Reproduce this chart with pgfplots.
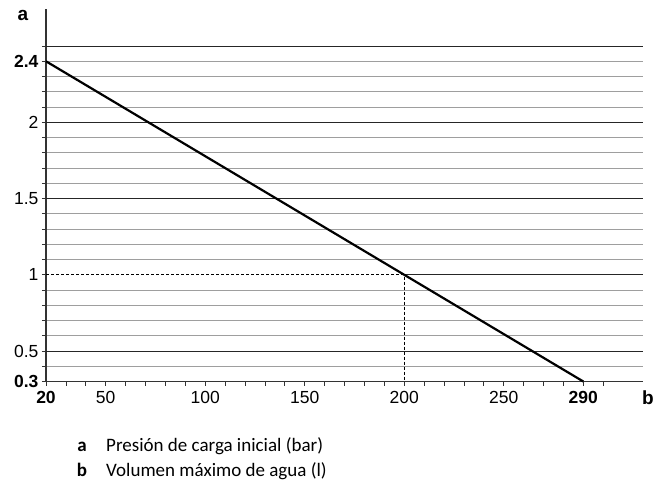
\documentclass[border=0pt]{standalone}
\usepackage{fontspec}
\setmainfont{Liberation Sans}
\newfontfamily\carlito{Carlito}
\usepackage{pgfplots}
\pgfplotsset{compat=1.18}
\begin{document}
\begin{tikzpicture}[x=1pt,y=1pt]
\path[use as bounding box] (-46,-102.5) rectangle (609,381.5);
\begin{axis}[
  at={(0,0)}, anchor=south west,
  scale only axis, width=597pt, height=372.5pt,
  xmin=20, xmax=320, ymin=0.3, ymax=2.743,
  axis x line=bottom, axis y line=left,
  axis line style={-, line width=1.2pt, black!80},
  xtick={20,50,100,150,200,250,290},
  xticklabels={\textbf{20},50,100,150,200,250,\textbf{290}},
  minor xtick={30,40,60,70,80,90,110,120,130,140,160,170,180,190,210,220,230,240,260,270,280,300},
  ytick={0.3,0.5,1,1.5,2,2.4},
  yticklabels={\textbf{0.3},0.5,1,1.5,2,\textbf{2.4}},
  minor ytick={0.4,0.6,0.7,0.8,0.9,1.1,1.2,1.3,1.4,1.6,1.7,1.8,1.9,2.1,2.2,2.3,2.4},
  yminorgrids=true, xminorgrids=false, xmajorgrids=false, ymajorgrids=false,
  minor grid style={black!38, line width=0.9pt},
  extra y ticks={0.5,1.5,2,2.5},
  extra y tick labels={},
  extra y tick style={grid=major, major grid style={black!85, line width=1pt}},
  tick align=outside, major tick length=4pt, minor tick length=4pt,
  every tick/.style={black!80, line width=0.8pt},
  tick label style={font=\fontsize{17.5}{20}\selectfont},
  xticklabel style={yshift=-2pt},
  /pgf/number format/assume math mode=true,
  clip=false,
]
\addplot[black!85, line width=1pt] coordinates {(200,1) (320,1)};
\addplot[black, line width=0.8pt, dash pattern=on 3pt off 2pt] coordinates {(20,1) (200,1) (200,0.3)};
\addplot[black, line width=2.2pt] coordinates {(20,2.4) (290,0.3)};
\end{axis}
\node[anchor=base, font=\bfseries\fontsize{19}{22}\selectfont, inner sep=0] at (-23,360.5) {a};
\node[anchor=base, font=\bfseries\fontsize{19}{22}\selectfont, inner sep=0] at (602,-22.5) {b};
\node[anchor=base, font=\carlito\bfseries\fontsize{19}{23}\selectfont, inner sep=0] at (36,-70) {a};
\node[anchor=base west, font=\carlito\fontsize{19}{23}\selectfont, inner sep=0] at (60,-70) {Presión de carga inicial (bar)};
\node[anchor=base, font=\carlito\bfseries\fontsize{19}{23}\selectfont, inner sep=0] at (36,-95) {b};
\node[anchor=base west, font=\carlito\fontsize{19}{23}\selectfont, inner sep=0] at (60,-95) {Volumen máximo de agua (l)};
\end{tikzpicture}
\end{document}
